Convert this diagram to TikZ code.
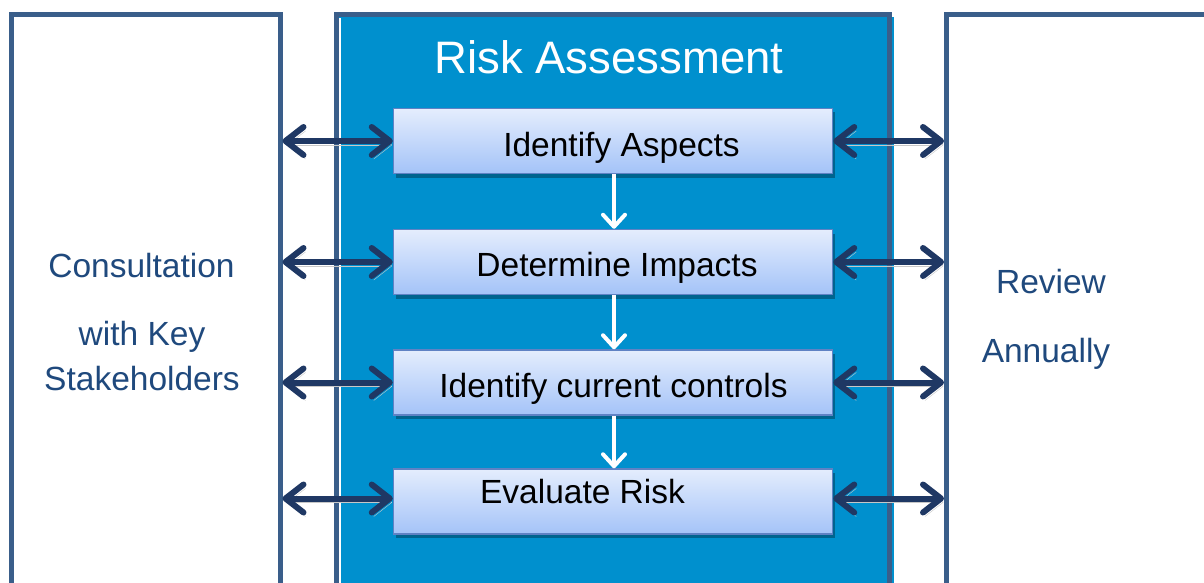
\documentclass[tikz,border=0pt]{standalone}
\usepackage{fontspec}
\setmainfont{Liberation Sans}
\usetikzlibrary{arrows.meta,shadows}
\definecolor{framecol}{RGB}{58,94,138}
\definecolor{panel}{RGB}{0,144,206}
\definecolor{navy}{RGB}{31,56,100}
\definecolor{txtblue}{RGB}{31,73,125}
\definecolor{boxtop}{RGB}{228,237,253}
\definecolor{boxbot}{RGB}{164,195,248}
\definecolor{boxline}{RGB}{95,130,196}
\begin{document}
\begin{tikzpicture}[x=1pt,y=-1pt,
  framebox/.style={draw=framecol,line width=5pt,inner sep=0pt},
  stepbox/.style={draw=boxline,line width=1.5pt,top color=boxtop,bottom color=boxbot,
    minimum width=439pt,minimum height=65pt,inner sep=0pt,
    drop shadow={shadow xshift=2pt,shadow yshift=-4pt,fill=black,opacity=0.3}},
  steptext/.style={anchor=base,font=\fontsize{33.5}{38}\selectfont,text=black,inner sep=0pt},
  sidetext/.style={anchor=base,font=\fontsize{33.5}{38}\selectfont,text=txtblue,inner sep=0pt},
  linkarrow/.style={draw=navy,line width=6pt,{Straight Barb[length=18pt,width=28pt,round]}-{Straight Barb[length=18pt,width=28pt,round]},
    preaction={draw=black!22,transform canvas={shift={(2pt,-4pt)}}}},
  flowarrow/.style={draw=white,line width=4pt,-{Straight Barb[length=12pt,width=22pt,round]}}]
\useasboundingbox (0,0) rectangle (1204,583);
\fill[white] (0,0) rectangle (1204,583);
\clip (0,0) rectangle (1204,583);
% side frames
\node[framebox,minimum width=269pt,minimum height=685pt] (cl) at (145.5,357.5) {};
\node[framebox,minimum width=320pt,minimum height=685pt] (rv) at (1106.5,357.5) {};
% central panel
\fill[panel] (889,17) rectangle (894,700);
\node[framebox,fill=panel,minimum width=553pt,minimum height=685pt] (ra) at (613,357.5) {};
\draw[white,line width=1.6pt] (339.8,18) -- (339.8,700);
\node[anchor=base,text=white,font=\fontsize{45.5}{50}\selectfont,inner sep=0pt] (title) at (609,74) {Risk Assessment};
% steps
\node[stepbox] (b1) at (613,141) {};
\node[stepbox] (b2) at (613,262) {};
\node[stepbox] (b3) at (613,382.5) {};
\node[stepbox] (b4) at (613,501.5) {};
\node[steptext] (t1) at (621.5,157) {Identify Aspects};
\node[steptext] (t2) at (617,276.5) {Determine Impacts};
\node[steptext] (t3) at (613.5,397) {Identify current controls};
\node[steptext] (t4) at (582.5,503) {Evaluate Risk};
% flow arrows
\draw[flowarrow] ([xshift=1pt]b1.south) -- ([xshift=1pt]b2.north);
\draw[flowarrow] ([xshift=1pt]b2.south) -- ([xshift=1pt]b3.north);
\draw[flowarrow] ([xshift=1pt]b3.south) -- ([xshift=1pt]b4.north);
% link arrows
\draw[linkarrow] (cl.east |- b1.west) -- (b1.west);
\draw[linkarrow] (cl.east |- b2.west) -- (b2.west);
\draw[linkarrow] (cl.east |- b3.west) -- (b3.west);
\draw[linkarrow] ([yshift=3pt]cl.east |- b4.west) -- ([yshift=3pt]b4.west);
\draw[linkarrow] (b1.east) -- (rv.west |- b1.east);
\draw[linkarrow] (b2.east) -- (rv.west |- b2.east);
\draw[linkarrow] (b3.east) -- (rv.west |- b3.east);
\draw[linkarrow] ([yshift=3pt]b4.east) -- ([yshift=3pt]rv.west |- b4.east);
% side texts
\node[sidetext] (c1) at (141.5,277) {Consultation};
\node[sidetext] (c2) at (142,345) {with Key};
\node[sidetext] (c3) at (142,390) {Stakeholders};
\node[sidetext] (r1) at (1051,293) {Review};
\node[sidetext] (r2) at (1046,362) {Annually};
\end{tikzpicture}
\end{document}
